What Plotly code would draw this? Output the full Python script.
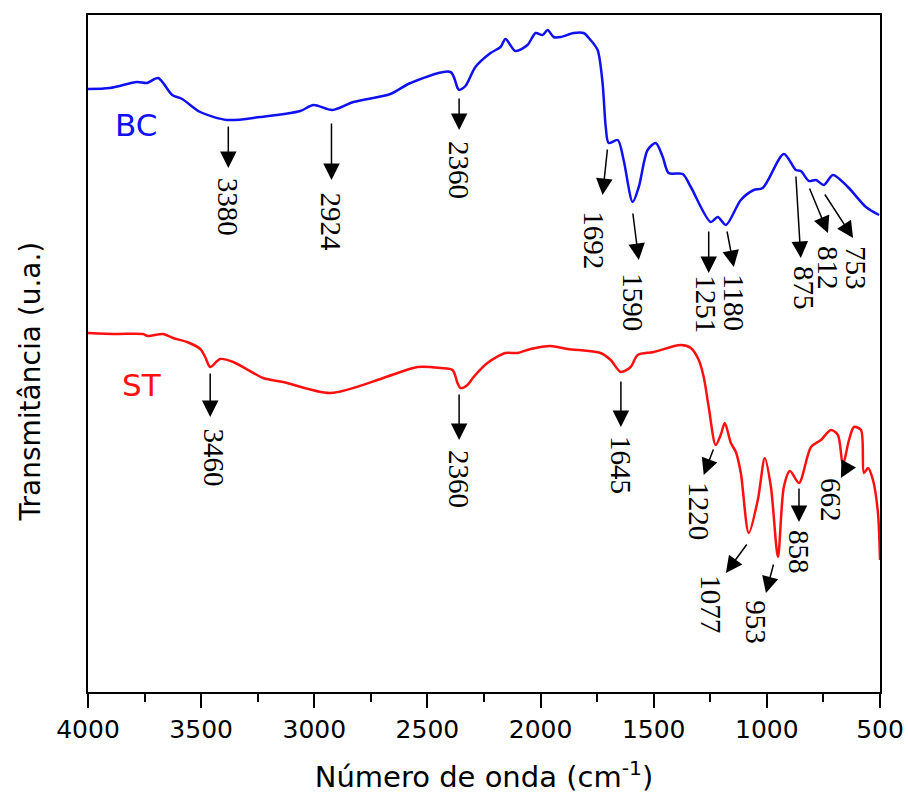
import plotly.graph_objects as go

# FTIR spectra, transmittance in arbitrary units (offset traces)
bc_wavenumber = [4000, 3903, 3783, 3739, 3690, 3628, 3584, 3504, 3385, 3239, 3062, 3004, 2920,
                 2827, 2664, 2575, 2398, 2367, 2360, 2332, 2288, 2221, 2177, 2155, 2111, 2058,
                 2022, 1991, 1969, 1942, 1911, 1854, 1810, 1779, 1748, 1726, 1712, 1699, 1659,
                 1633, 1593, 1566, 1527, 1491, 1460, 1434, 1372, 1336, 1248, 1217, 1181, 1115,
                 1058, 1018, 925, 872, 850, 814, 783, 748, 708, 642, 562, 504]
bc_transmittance = [603, 604, 610, 609, 614, 597, 593, 580, 572, 575, 581, 587, 582,
                    590, 598, 609, 620, 604, 602, 606, 625, 639, 645, 653, 641, 647,
                    659, 657, 662, 655, 655, 659, 659, 652, 642, 609, 565, 549, 552,
                    532, 490, 505, 542, 549, 535, 519, 518, 505, 470, 475, 467, 492,
                    502, 504, 538, 522, 521, 511, 512, 507, 517, 505, 485, 477]

st_wavenumber = [4000, 3872, 3757, 3735, 3668, 3624, 3562, 3504, 3482, 3460, 3416, 3358, 3226,
                 3137, 2929, 2695, 2619, 2544, 2442, 2389, 2367, 2354, 2323, 2296, 2235, 2155,
                 2102, 2044, 1956, 1881, 1735, 1690, 1646, 1602, 1571, 1500, 1381, 1336, 1301,
                 1279, 1257, 1226, 1204, 1186, 1159, 1137, 1115, 1080, 1040, 1009, 982, 951,
                 925, 898, 858, 805, 761, 717, 686, 664, 637, 615, 584, 571, 553, 531, 509, 500]
st_transmittance = [359, 358, 358, 356, 358, 354, 350, 343, 335, 325, 333, 330, 314,
                    310, 299, 314, 320, 325, 324, 322, 309, 304, 307, 315, 329, 339,
                    339, 343, 346, 343, 339, 332, 320, 325, 337, 340, 347, 344, 332,
                    315, 285, 247, 257, 269, 249, 240, 219, 159, 192, 234, 205, 135,
                    205, 221, 209, 245, 252, 262, 257, 227, 252, 265, 262, 219, 224, 212, 179, 132]

x_ticks = [4000, 3500, 3000, 2500, 2000, 1500, 1000, 500]

# Band assignments: label, arrow tail (x, y), arrow head (x, y), label centre (x, y)
bc_bands = [
    ("3380", (3380, 567), (3380, 524), (3380, 485)),
    ("2924", (2924, 570), (2924, 512), (2924, 470)),
    ("2360", (2360, 595), (2360, 562), (2360, 522)),
    ("1692", (1704, 544), (1726, 497), (1765, 452)),
    ("1590", (1593, 480), (1566, 432), (1593, 390)),
    ("1251", (1257, 462), (1257, 419), (1270, 388)),
    ("1180", (1177, 462), (1146, 425), (1146, 389)),
    ("875", (872, 517), (850, 434), (836, 404)),
    ("812", (814, 505), (730, 459), (730, 424)),
    ("753", (748, 499), (619, 454), (606, 424)),
]
st_bands = [
    ("3460", (3460, 320), (3460, 275), (3445, 235)),
    ("2360", (2360, 299), (2360, 252), (2360, 213)),
    ("1645", (1645, 312), (1645, 265), (1645, 227)),
    ("1220", (1234, 244), (1279, 217), (1301, 181)),
    ("1077", (1084, 149), (1181, 119), (1248, 88)),
    ("953", (969, 129), (1004, 99), (1049, 70)),
    ("858", (858, 205), (858, 170), (858, 140)),
    ("662", (642, 227), (673, 214), (717, 192)),
]

SERIF = "Liberation Serif"
SANS = "DejaVu Sans"

fig = go.Figure()
fig.add_trace(go.Scatter(x=bc_wavenumber, y=bc_transmittance, mode="lines",
                         line=dict(color="#1010f0", width=2.5, shape="spline", smoothing=0.8),
                         name="BC", showlegend=False))
fig.add_trace(go.Scatter(x=st_wavenumber, y=st_transmittance, mode="lines",
                         line=dict(color="#ff1010", width=2.5, shape="spline", smoothing=0.8),
                         name="ST", showlegend=False))

annotations = []
for label, tail, head, centre in bc_bands + st_bands:
    annotations.append(dict(x=head[0], y=head[1], ax=tail[0], ay=tail[1],
                            xref="x", yref="y", axref="x", ayref="y", text="",
                            showarrow=True, arrowhead=2, arrowsize=2.2, arrowwidth=1.5,
                            arrowcolor="black", standoff=0, startstandoff=0))
    annotations.append(dict(x=centre[0], y=centre[1], xref="x", yref="y", text=label,
                            showarrow=False, textangle=90,
                            font=dict(family=SERIF, size=29, color="black")))

annotations.append(dict(x=3790, y=567, xref="x", yref="y", text="BC", showarrow=False,
                        font=dict(family=SANS, size=31, color="#1010f0")))
annotations.append(dict(x=3760, y=307, xref="x", yref="y", text="ST", showarrow=False,
                        font=dict(family=SANS, size=31, color="#ff1010")))

# y-axis title, set slightly below the middle of the frame
annotations.append(dict(x=-0.073, y=0.459, xref="paper", yref="paper", text="Transmitância (u.a.)",
                        showarrow=False, textangle=-90, xanchor="center", yanchor="middle",
                        font=dict(family=SANS, size=28, color="black")))

fig.update_layout(
    width=908, height=801,
    margin=dict(l=88, r=28, t=15, b=109),
    paper_bgcolor="white", plot_bgcolor="white",
    annotations=annotations,
    xaxis=dict(range=[4000, 500], tickvals=x_ticks, ticks="outside", ticklen=14, tickwidth=2,
               tickcolor="black", showline=True, linewidth=2, linecolor="black", mirror=True,
               showgrid=False, zeroline=False, automargin=False,
               minor=dict(dtick=250, ticks="outside", ticklen=8, tickwidth=2, tickcolor="black"),
               tickfont=dict(family=SANS, size=25, color="black"),
               title=dict(text="Número de onda (cm<sup>-1</sup>)", standoff=24,
                          font=dict(family=SANS, size=29, color="black"))),
    yaxis=dict(range=[0, 677], showticklabels=False, ticks="", showline=True, linewidth=2,
               linecolor="black", mirror=True, showgrid=False, zeroline=False, automargin=False),
)

fig.write_html("out.html")
